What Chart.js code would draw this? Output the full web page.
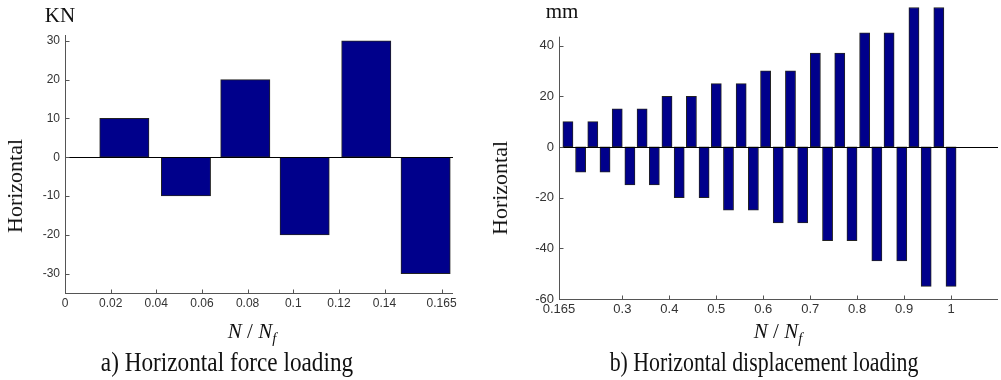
<!DOCTYPE html>
<html>
<head>
<meta charset="utf-8">
<script src="https://cdn.jsdelivr.net/npm/chart.js@4.4.1/dist/chart.umd.min.js"></script>
<style>
  body { margin: 0; background: #fff; }
  #wrap { position: relative; width: 1001px; height: 380px; overflow: hidden;
          font-family: "Liberation Serif", "Times New Roman", serif; color: #111; }
  .box { position: absolute; top: 0; height: 320px; }
  .lbl { position: absolute; white-space: nowrap; line-height: 1; transform: translate(-50%, -50%); }
  .vert { transform: translate(-50%, -50%) rotate(-90deg); }
  .capA { transform: translate(-50%, -50%) scaleX(0.83); }
  .capB { transform: translate(-50%, -50%) scaleX(0.78); }
  sub { font-size: 0.7em; vertical-align: -0.35em; }
</style>
</head>
<body>
<div id="wrap">
  <div class="box" style="left:0;width:480px"><canvas id="forceChart"></canvas></div>
  <div class="box" style="left:480px;width:521px"><canvas id="dispChart"></canvas></div>

  <div class="lbl" style="left:60px;top:15px;font-size:21px">KN</div>
  <div class="lbl" style="left:562px;top:11px;font-size:21px">mm</div>
  <div class="lbl vert" style="left:15px;top:186px;font-size:22px">Horizontal</div>
  <div class="lbl vert" style="left:500px;top:188px;font-size:22px">Horizontal</div>
  <div class="lbl" style="left:252px;top:333px;font-size:21px"><i>N</i>&nbsp;/&nbsp;<i>N</i><sub><i>f</i></sub></div>
  <div class="lbl" style="left:778px;top:333px;font-size:21px"><i>N</i>&nbsp;/&nbsp;<i>N</i><sub><i>f</i></sub></div>
  <div class="lbl capA" style="left:227px;top:362px;font-size:28px">a) Horizontal force loading</div>
  <div class="lbl capB" style="left:764px;top:362px;font-size:28px">b) Horizontal displacement loading</div>
</div>
<script>
// a) horizontal force loading
const forceX = [0.026, 0.053, 0.079, 0.105, 0.132, 0.158];
const forceY = [10, -10, 20, -20, 30, -30];
const forceXTicks = [0, 0.02, 0.04, 0.06, 0.08, 0.1, 0.12, 0.14, 0.165];
const forceYTicks = [-30, -20, -10, 0, 10, 20, 30];

// b) horizontal displacement loading
const dispX = [0.184, 0.211, 0.237, 0.263, 0.289, 0.316, 0.342, 0.368,
               0.395, 0.421, 0.447, 0.474, 0.500, 0.526, 0.553, 0.579,
               0.605, 0.632, 0.658, 0.684, 0.711, 0.737, 0.763, 0.789,
               0.816, 0.842, 0.868, 0.895, 0.921, 0.947, 0.974, 1.000];
const dispY = [10, -10, 10, -10, 15, -15, 15, -15,
               20, -20, 20, -20, 25, -25, 25, -25,
               30, -30, 30, -30, 37, -37, 37, -37,
               45, -45, 45, -45, 55, -55, 55, -55];
const dispXTicks = [0.165, 0.3, 0.4, 0.5, 0.6, 0.7, 0.8, 0.9, 1];
const dispYTicks = [-60, -40, -20, 0, 20, 40];

// matlab style axes: grey left/bottom lines, inward ticks, black zero line
const matAxes = {
  id: 'matAxes',
  afterDatasetsDraw(chart, args, opts) {
    const {ctx, chartArea: a, scales: {x, y}} = chart;
    const seg = (x1, y1, x2, y2) => { ctx.beginPath(); ctx.moveTo(x1, y1); ctx.lineTo(x2, y2); ctx.stroke(); };
    ctx.save();
    ctx.lineWidth = 1;
    ctx.strokeStyle = '#000';
    const y0 = Math.round(y.getPixelForValue(0)) + 0.5;
    seg(a.left, y0, a.right, y0);

    ctx.strokeStyle = '#555';
    const top = opts.axisTop != null ? y.getPixelForValue(opts.axisTop) : a.top;
    const lx = Math.round(a.left) + 0.5, by = Math.round(a.bottom) + 0.5;
    seg(lx, top, lx, by);
    seg(a.left, by, a.right, by);
    x.ticks.forEach(t => {
      const px = Math.round(x.getPixelForValue(t.value)) + 0.5;
      seg(px, by, px, by - 4);
    });
    y.ticks.forEach(t => {
      const py = Math.round(y.getPixelForValue(t.value)) + 0.5;
      seg(lx, py, lx + 4, py);
    });
    ctx.restore();
  }
};

function makeChart(id, xs, ys, xTicks, yTicks, s) {
  return new Chart(document.getElementById(id), {
    type: 'bar',
    data: {
      datasets: [{
        data: xs.map((v, i) => ({x: v, y: ys[i]})),
        backgroundColor: '#00008b',
        borderColor: '#222',
        borderWidth: 1,
        borderSkipped: false,
        // bars fill 80% of the spacing between samples
        barThickness: ctx => {
          const sc = ctx.chart.scales.x;
          if (!sc) return undefined;
          return 0.8 * Math.abs(sc.getPixelForValue(xs[1]) - sc.getPixelForValue(xs[0]));
        }
      }]
    },
    options: {
      responsive: true,
      maintainAspectRatio: false,
      animation: false,
      layout: { padding: { top: s.top, right: s.right, left: 0, bottom: 0 } },
      scales: {
        x: {
          type: 'linear',
          offset: false,
          min: s.xMin, max: s.xMax,
          afterBuildTicks: sc => { sc.ticks = xTicks.map(v => ({value: v})); },
          afterFit: sc => { sc.height = s.xH; },
          grid: { display: false, drawTicks: false, offset: false },
          border: { display: false },
          ticks: {
            autoSkip: false, maxRotation: 0, padding: s.xPad,
            color: '#333', font: { family: 'Liberation Sans, Arial', size: s.fs },
            callback: v => String(+v.toFixed(3))
          }
        },
        y: {
          min: s.yMin, max: s.yMax,
          afterBuildTicks: sc => { sc.ticks = yTicks.map(v => ({value: v})); },
          afterFit: sc => { sc.width = s.yW; sc.paddingTop = 0; sc.paddingBottom = 0; },
          grid: { display: false, drawTicks: false },
          border: { display: false },
          ticks: {
            padding: 5,
            color: '#333', font: { family: 'Liberation Sans, Arial', size: s.fs }
          }
        }
      },
      plugins: {
        legend: { display: false },
        tooltip: { enabled: false },
        matAxes: { axisTop: s.axisTop }
      }
    },
    plugins: [matAxes]
  });
}

makeChart('forceChart', forceX, forceY, forceXTicks, forceYTicks, {
  top: 35, right: 27, yW: 65, xH: 27, xPad: 3, fs: 12,
  xMin: 0, xMax: 0.17, yMin: -35, yMax: 31.5, axisTop: null
});
makeChart('dispChart', dispX, dispY, dispXTicks, dispYTicks, {
  top: 5, right: 3, yW: 79, xH: 21, xPad: 3, fs: 13,
  xMin: 0.165, xMax: 1.1, yMin: -60, yMax: 56, axisTop: 43.5
});
</script>
</body>
</html>
